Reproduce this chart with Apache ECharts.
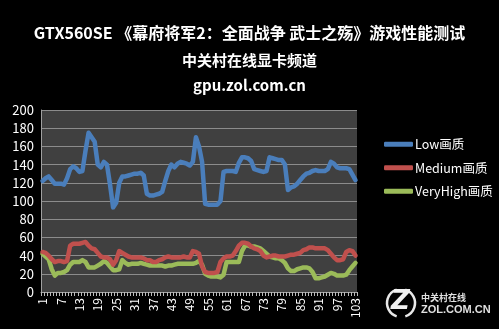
<!DOCTYPE html>
<html>
<head>
<meta charset="utf-8">
<script src="https://cdn.jsdelivr.net/npm/echarts@6/dist/echarts.min.js"></script>
<style>
  html, body { margin: 0; padding: 0; background: #000; }
  #chart { width: 499px; height: 329px; }
</style>
</head>
<body>
<div id="chart"></div>
<script>
// Frame-rate samples (fps) for each quality preset, 103 samples per run
const categories = Array.from({ length: 103 }, (_, i) => String(i + 1));

const lowQuality = [
  122, 125, 127, 123, 119, 119, 119, 118, 125, 135,
  138, 136, 132, 133, 155, 175, 170, 165, 140, 137,
  143, 140, 118, 93, 98, 120, 127, 127, 128, 129,
  130, 130, 131, 128, 108, 106, 106, 107, 108, 110,
  122, 133, 140, 137, 141, 143, 142, 141, 139, 143,
  170, 160, 143, 97, 96, 96, 96, 96, 100, 132,
  133, 133, 133, 132, 142, 148, 148, 147, 144, 135,
  134, 133, 132, 133, 148, 147, 146, 145, 145, 140,
  112, 115, 116, 119, 123, 127, 130, 131, 133, 134,
  133, 133, 133, 135, 143, 141, 137, 136, 136, 136,
  135, 129, 123
];

const mediumQuality = [
  44, 43, 40, 36, 33, 34, 34, 33, 34, 51,
  53, 53, 53, 54, 55, 51, 48, 47, 43, 39,
  38, 38, 36, 30, 35, 45, 43, 41, 39, 38,
  38, 38, 38, 37, 35, 35, 33, 33, 35, 36,
  38, 39, 38, 38, 38, 38, 39, 38, 38, 45,
  44, 42, 28, 22, 21, 21, 21, 22, 33, 37,
  39, 39, 40, 45, 51, 54, 54, 53, 50, 48,
  47, 45, 40, 38, 39, 40, 40, 39, 39, 39,
  40, 41, 41, 42, 43, 46, 47, 49, 49, 48,
  48, 48, 48, 46, 42, 38, 35, 35, 36, 44,
  46, 45, 40
];

const veryHighQuality = [
  42, 39, 36, 25, 18, 21, 21, 22, 24, 30,
  33, 33, 33, 35, 33, 27, 27, 27, 29, 31,
  34, 32, 28, 24, 24, 25, 35, 32, 30, 31,
  31, 31, 32, 31, 30, 29, 29, 29, 29, 29,
  28, 29, 29, 30, 31, 31, 31, 31, 31, 31,
  32, 34, 30, 20, 18, 17, 17, 17, 16, 19,
  33, 33, 33, 33, 33, 45, 51, 51, 50, 50,
  49, 48, 45, 42, 39, 38, 37, 37, 35, 32,
  26, 23, 23, 25, 26, 27, 27, 26, 22, 15,
  15, 16, 17, 19, 21, 20, 18, 18, 18, 19,
  24, 28, 32
];

const seriesNames = ['Low画质', 'Medium画质', 'VeryHigh画质'];
const seriesColors = ['#4a7ebb', '#c0504d', '#9bbb59'];
const seriesData = [lowQuality, mediumQuality, veryHighQuality];

const FONT = '"Noto Sans CJK SC", "Noto Sans", sans-serif';

const chart = echarts.init(document.getElementById('chart'), null, { renderer: 'canvas' });

chart.setOption({
  backgroundColor: '#000',
  animation: false,
  title: [
    { text: 'GTX560SE 《幕府将军2：全面战争 武士之殇》游戏性能测试', left: 'center', top: 20,
      textStyle: { color: '#fff', fontSize: 16, fontWeight: 'bold', fontFamily: FONT } },
    { text: '中关村在线显卡频道', left: 'center', top: 48,
      textStyle: { color: '#fff', fontSize: 15, fontWeight: 'bold', fontFamily: FONT } },
    { text: 'gpu.zol.com.cn', left: 'center', top: 73,
      textStyle: { color: '#fff', fontSize: 15, fontWeight: 'bold', fontFamily: FONT } }
  ],
  legend: {
    orient: 'vertical',
    left: 379,
    top: 133,
    itemWidth: 29,
    itemHeight: 5,
    itemGap: 11,
    icon: 'roundRect',
    textStyle: { color: '#fff', fontSize: 12.5, fontFamily: FONT, padding: [0, 0, 0, -3] },
    data: seriesNames
  },
  grid: {
    left: 41, right: 142, top: 110, bottom: 37,
    show: true, backgroundColor: '#404040', borderWidth: 0
  },
  xAxis: {
    type: 'category',
    data: categories,
    boundaryGap: true,
    axisLine: { lineStyle: { color: '#a0a0a0', width: 1 } },
    axisTick: { show: true, interval: 0, length: 4, lineStyle: { color: '#bbb' } },
    axisLabel: { interval: 5, rotate: 90, color: '#fff', fontSize: 12, fontFamily: FONT, margin: 6 },
    splitLine: { show: false }
  },
  yAxis: {
    type: 'value',
    min: 0, max: 200, interval: 20,
    axisLine: { show: true, lineStyle: { color: '#a0a0a0' } },
    axisTick: { show: false },
    axisLabel: { color: '#fff', fontSize: 13, fontFamily: FONT, margin: 7 },
    splitLine: { lineStyle: { color: '#8c8c8c', width: 1 } }
  },
  series: seriesData.map((d, k) => ({
    name: seriesNames[k],
    type: 'line',
    data: d,
    showSymbol: false,
    symbol: 'none',
    smooth: false,
    color: seriesColors[k],
    lineStyle: { width: 4.5, color: seriesColors[k], cap: 'round', join: 'round' },
    z: 10 - k
  })),
  graphic: [
    // ZOL watermark, bottom right: bracketed Z mark plus site name
    { type: 'arc', shape: { cx: 401, cy: 303, r: 14, startAngle: Math.PI * 0.6, endAngle: Math.PI * 1.4 },
      style: { stroke: '#e8e8e8', lineWidth: 2.5, fill: null } },
    { type: 'arc', shape: { cx: 401, cy: 303, r: 14, startAngle: -Math.PI * 0.4, endAngle: Math.PI * 0.4 },
      style: { stroke: '#e8e8e8', lineWidth: 2.5, fill: null } },
    { type: 'text', left: 391, top: 289,
      style: { text: 'Z', fill: '#f0f0f0', font: 'italic bold 26px "DejaVu Sans", sans-serif' } },
    { type: 'text', left: 421, top: 293,
      style: { text: '中关村在线', fill: '#e0e0e0', font: 'bold 9px "Noto Sans CJK SC", sans-serif' } },
    { type: 'text', left: 421, top: 304,
      style: { text: 'ZOL.COM.CN', fill: '#e0e0e0', font: 'bold 11px "Liberation Sans", sans-serif' } }
  ]
});
</script>
</body>
</html>
